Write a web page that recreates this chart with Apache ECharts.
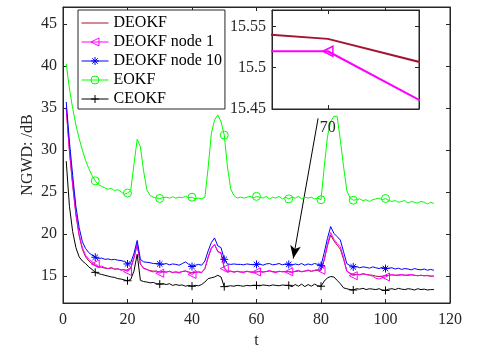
<!DOCTYPE html>
<html><head><meta charset="utf-8">
<script src="https://cdn.jsdelivr.net/npm/echarts@6/dist/echarts.min.js"></script>
<style>html,body{margin:0;padding:0;background:#fff}#c{width:477px;height:356px}</style>
</head><body><div id="c"></div>
<script>
// time steps
const tValues = Array.from({length:115},(_, i)=>i+1);
const markerT = [10,20,30,40,50,60,70,80,90,100];
const xTicks = [0,20,40,60,80,100,120];
const yTicks = [15,20,25,30,35,40,45];
const insetXTicks = [70];
const insetYTicks = [15.45,15.5,15.55];
const seriesNames = ['DEOKF','DEOKF node 1','DEOKF node 10','EOKF','CEOKF'];

const deokf = [35.0,29.8,25.8,22.3,19.8,18.2,17.3,16.8,16.5,16.3,
16.1,16.05,15.95,15.9,15.95,15.85,15.85,15.75,15.75,15.65,
16.0,17.2,18.7,16.4,15.95,15.8,15.65,15.6,15.6,15.5,
15.55,15.5,15.55,15.45,15.5,15.45,15.55,15.6,15.5,15.4,
15.45,15.5,15.45,15.9,17.2,18.3,18.75,17.95,17.7,16.0,
15.6,15.6,15.5,15.55,15.5,15.5,15.55,15.5,15.5,15.5,
15.55,15.5,15.55,15.6,15.55,15.5,15.55,15.55,15.548,15.535,
15.49,15.55,15.6,15.55,15.6,15.65,15.6,15.65,15.7,15.7,
16.9,18.6,19.9,19.2,18.7,18.2,17.0,15.6,15.35,15.2,
15.2,15.2,15.25,15.2,15.15,15.1,15.0,14.95,15.0,15.05,
15.1,15.15,15.1,15.1,15.15,15.1,15.1,15.15,15.1,15.05,
15.1,15.05,15.05,15.0,15.0];

const node1 = [35.1,30.0,26.0,22.5,20.0,18.4,17.5,17.0,16.7,16.45,
16.15,16.2,16.0,15.9,16.05,15.8,15.9,15.7,15.8,15.55,
15.9,17.1,18.85,16.5,15.9,15.8,15.6,15.5,15.6,15.35,
15.5,15.45,15.6,15.4,15.5,15.35,15.55,15.65,15.4,15.2,
15.45,15.5,15.4,15.9,17.3,18.4,18.8,17.9,17.8,15.9,
15.5,15.6,15.45,15.6,15.5,15.4,15.6,15.5,15.4,15.5,
15.6,15.45,15.55,15.7,15.5,15.4,15.6,15.5,15.52,15.52,
15.425,15.6,15.7,15.5,15.6,15.75,15.55,15.7,15.8,15.7,
17.0,18.8,20.2,19.4,18.9,18.5,17.2,15.6,15.3,15.05,
15.2,15.15,15.3,15.2,15.1,15.0,14.75,14.65,14.8,14.9,
15.1,15.2,15.1,15.15,15.2,15.1,15.15,15.2,15.1,15.05,
15.1,15.05,15.1,15.0,15.0];

const node10 = [35.75,31.0,27.0,23.3,20.8,19.1,18.3,17.8,17.5,17.25,
17.1,17.15,17.0,17.05,16.95,17.0,16.9,16.85,16.75,16.45,
16.6,17.7,19.25,17.0,16.7,16.65,16.6,16.5,16.5,16.45,
16.4,16.5,16.35,16.45,16.4,16.3,16.5,16.7,16.4,16.15,
16.3,16.4,16.3,16.8,18.0,19.0,19.55,18.6,18.4,17.0,
16.45,16.4,16.45,16.4,16.4,16.35,16.45,16.4,16.35,16.4,
16.45,16.3,16.45,16.5,16.35,16.4,16.5,16.35,16.45,16.4,
16.3,16.45,16.35,16.5,16.3,16.45,16.35,16.5,16.4,16.25,
17.8,19.5,20.9,20.1,19.7,19.3,17.9,16.5,16.25,16.1,
16.15,16.0,16.1,16.05,15.95,16.1,16.0,15.9,16.05,15.9,
15.95,16.0,15.85,15.95,15.8,15.9,15.85,15.75,15.9,15.8,
15.75,15.85,15.7,15.8,15.7];

const eokf = [40.3,37.3,35.0,33.0,31.4,30.0,28.8,27.8,27.0,26.35,
25.9,25.7,25.5,25.35,25.45,25.2,25.3,25.05,24.75,24.9,
25.2,28.3,31.3,30.4,27.5,25.3,24.6,24.4,24.3,24.25,
24.35,24.4,24.3,24.45,24.3,24.4,24.35,24.5,24.35,24.4,
24.2,24.3,24.2,24.4,27.9,32.0,33.6,34.2,33.4,31.8,
28.0,25.4,24.6,24.3,24.4,24.3,24.4,24.5,24.3,24.5,
24.4,24.3,24.5,24.2,24.4,24.3,24.5,24.2,24.4,24.2,
24.4,24.3,24.5,24.2,24.4,24.3,24.4,24.2,24.3,24.1,
28.0,31.6,33.4,34.05,34.05,31.2,28.05,25.2,24.3,24.05,
24.1,24.2,24.0,24.1,23.9,24.1,24.2,24.3,24.1,24.25,
24.0,23.9,24.0,23.8,23.9,24.0,23.7,23.9,23.8,23.7,
23.9,23.8,23.6,23.8,23.65];

const ceokf = [28.7,23.3,20.3,18.4,17.3,16.8,16.5,16.1,15.8,15.45,
15.3,15.2,15.1,15.0,14.9,14.85,14.7,14.65,14.55,14.45,
14.6,15.6,17.6,14.5,14.35,14.3,14.2,14.25,14.1,14.05,
14.1,14.0,14.1,13.9,14.0,13.9,13.95,13.8,13.9,13.8,
13.9,13.85,14.0,14.3,14.7,14.8,14.9,15.1,14.9,13.75,
13.8,13.85,13.8,13.9,13.85,13.8,13.9,13.85,13.9,13.9,
13.85,13.95,13.9,13.85,13.95,13.9,13.85,13.95,13.9,13.9,
13.75,14.0,13.8,14.05,13.75,14.0,13.8,14.05,13.85,13.8,
14.4,14.8,14.95,14.9,14.5,14.1,13.6,13.5,13.4,13.35,
13.5,13.45,13.55,13.4,13.5,13.45,13.4,13.5,13.35,13.3,
13.45,13.5,13.4,13.55,13.45,13.4,13.5,13.45,13.35,13.5,
13.4,13.45,13.35,13.4,13.4];

// arrow annotation (data coordinates): from inset tick label down to the curves
const arrowFrom = [79.1, 33.8];
const arrowTo = [71.4, 17.1];

const FONT = '"Liberation Serif", "Times New Roman", serif';
const AX = '#262626';
const colors = ['#A2142F','#FF00FF','#0000FF','#00FF00','#000000'];

const triLeft = 'path://M0,5 L10,0 L10,10 Z';
const asterisk = 'path://M5,0 L5,10 M0,5 L10,5 M1.6,1.6 L8.4,8.4 M8.4,1.6 L1.6,8.4';
const plus = 'path://M5,0 L5,10 M0,5 L10,5';
const symbols = ['none', triLeft, asterisk, 'circle', plus];
const allData = [deokf, node1, node10, eokf, ceokf];

function build(vals){
  return vals.map((v,i)=>{
    const t = tValues[i];
    return markerT.includes(t) ? [t, v] : {value:[t, v], symbol:'none'};
  });
}

const mainSeries = allData.map((vals, k) => {
  const s = {
    name: seriesNames[k], type:'line', xAxisIndex:0, yAxisIndex:0,
    data: build(vals), symbol: symbols[k], symbolSize: 8, showAllSymbol: true,
    lineStyle:{color: colors[k], width:1},
    itemStyle:{color:'rgba(0,0,0,0)', borderColor: colors[k], borderWidth:1},
    emphasis:{disabled:true}, z: 2 + k
  };
  if (k === 4) {
    s.markLine = {
      silent: true, symbol:['none','arrow'], symbolSize:[8,13],
      lineStyle:{color:'#000', width:1, type:'solid'}, label:{show:false},
      data:[[{coord: arrowFrom}, {coord: arrowTo}]]
    };
  }
  return s;
});

const insetSeries = [0,1].map(k => ({
  name: seriesNames[k] + ' (inset)', type:'line', xAxisIndex:2, yAxisIndex:2,
  data: build(allData[k]), symbol: symbols[k], symbolSize: 10, showAllSymbol: true,
  lineStyle:{color: colors[k], width:2},
  itemStyle:{color:'rgba(0,0,0,0)', borderColor: colors[k], borderWidth:1.5},
  emphasis:{disabled:true}, clip: true, z: 10
}));

const lab = {color: AX, fontFamily: FONT, fontSize: 16};
function axisBase(extra){
  return Object.assign({
    type:'value', splitLine:{show:false},
    axisLine:{show:true, onZero:false, lineStyle:{color:AX, width:1}},
    axisTick:{show:true, inside:true, length:4, lineStyle:{color:AX}},
  }, extra);
}

const option = {
  animation: false,
  backgroundColor: '#fff',
  grid: [
    {left:63, right:27, top:7, bottom:53, show:true, borderColor:AX, borderWidth:1, backgroundColor:'#fff'},
    {left:272, top:10, width:147, height:99, show:true, borderColor:AX, borderWidth:1, backgroundColor:'#fff', z:5}
  ],
  xAxis: [
    axisBase({gridIndex:0, position:'bottom', min:0, max:120, interval:20,
      axisLabel:Object.assign({margin:9}, lab),
      name:'t', nameLocation:'middle', nameGap:30, nameMoveOverlap:false, nameTextStyle:lab}),
    axisBase({gridIndex:0, position:'top', min:0, max:120, interval:20, axisLabel:{show:false}}),
    axisBase({gridIndex:1, position:'bottom', min:69.62, max:70.62,
      axisTick:{show:true, inside:true, length:4, lineStyle:{color:AX}, customValues:insetXTicks},
      axisLabel:Object.assign({margin:11, customValues:insetXTicks}, lab), z:6}),
    axisBase({gridIndex:1, position:'top', min:69.62, max:70.62,
      axisTick:{show:true, inside:true, length:4, lineStyle:{color:AX}, customValues:insetXTicks},
      axisLabel:{show:false}, z:6})
  ],
  yAxis: [
    axisBase({gridIndex:0, position:'left', min:11.8, max:47.06,
      axisTick:{show:true, inside:true, length:4, lineStyle:{color:AX}, customValues:yTicks},
      axisLabel:Object.assign({margin:6, customValues:yTicks}, lab),
      name:'NGWD: /dB', nameLocation:'middle', nameGap:27, nameMoveOverlap:false, nameTextStyle:lab}),
    axisBase({gridIndex:0, position:'right', min:11.8, max:47.06,
      axisTick:{show:true, inside:true, length:4, lineStyle:{color:AX}, customValues:yTicks},
      axisLabel:{show:false}}),
    axisBase({gridIndex:1, position:'left', min:15.45, max:15.57,
      axisTick:{show:true, inside:true, length:4, lineStyle:{color:AX}, customValues:insetYTicks},
      axisLabel:Object.assign({margin:6, customValues:insetYTicks, formatter: v => String(+v.toFixed(2))}, lab), z:6}),
    axisBase({gridIndex:1, position:'right', min:15.45, max:15.57,
      axisTick:{show:true, inside:true, length:4, lineStyle:{color:AX}, customValues:insetYTicks},
      axisLabel:{show:false}, z:6})
  ],
  legend: {
    orient:'vertical', left:78, top:10, padding:[5,3,2,3], itemGap:3,
    itemWidth:27, itemHeight:10, selectedMode:false,
    backgroundColor:'#fff', borderColor:AX, borderWidth:1,
    textStyle:{color:'#000', fontFamily:FONT, fontSize:16},
    data: seriesNames.map((n,k)=> k===0
      ? {name:n, itemStyle:{opacity:0}, lineStyle:{width:1, color:colors[k]}}
      : {name:n, itemStyle:{color:'rgba(0,0,0,0)', borderColor:colors[k], borderWidth:1}, lineStyle:{width:1, color:colors[k]}}),
    z: 20
  },
  series: mainSeries.concat(insetSeries)
};

const chart = echarts.init(document.getElementById('c'), null, {renderer:'canvas'});
chart.setOption(option);
</script>
</body></html>
